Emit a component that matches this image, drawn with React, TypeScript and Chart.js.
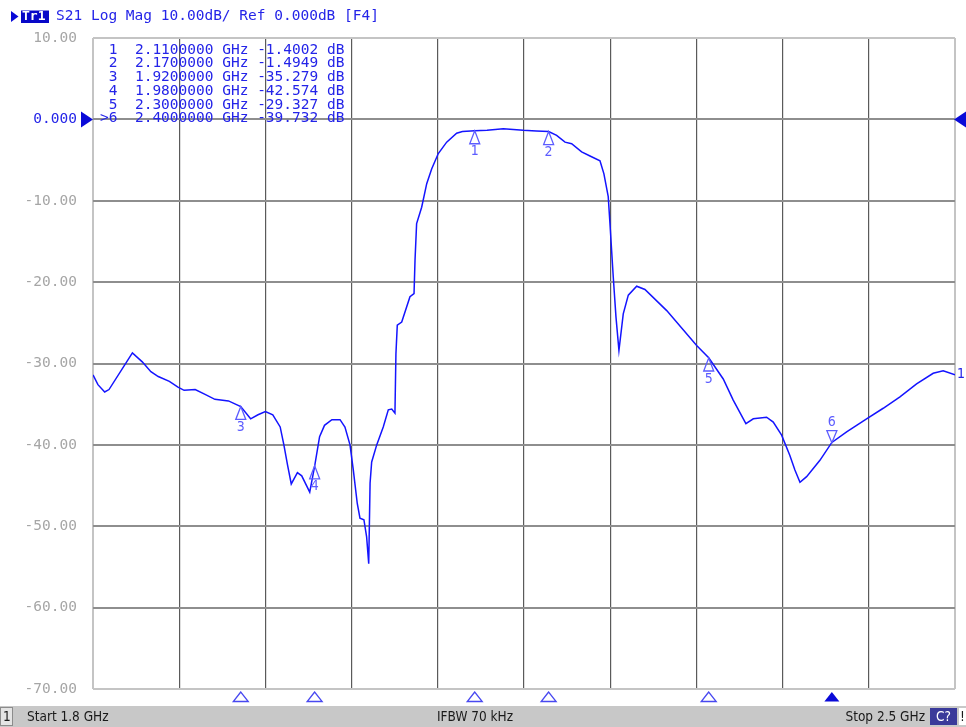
import React, { useEffect, useRef } from "react";
import { Chart, registerables } from "chart.js";

Chart.register(...registerables);

// ---- data ----
const freqGHz = [
  1.8, 1.804, 1.8095, 1.813, 1.832, 1.84, 1.847, 1.853, 1.862, 1.869, 1.874, 1.883, 1.891, 1.899, 1.91,
  1.92, 1.928, 1.934, 1.94, 1.946, 1.952, 1.955, 1.958, 1.961, 1.966, 1.9695, 1.976, 1.98, 1.984, 1.988,
  1.994, 2.0006, 2.0046, 2.0087, 2.0114, 2.0146, 2.0168, 2.02, 2.0222, 2.0239, 2.025, 2.0263, 2.0304,
  2.0357, 2.0398, 2.0426, 2.0452, 2.046, 2.0471, 2.0507, 2.0574, 2.0607, 2.0615, 2.0628, 2.0669, 2.071,
  2.075, 2.0804, 2.0872, 2.0953, 2.1, 2.11, 2.12, 2.1332, 2.1494, 2.16, 2.17, 2.1765, 2.1833, 2.1887,
  2.1968, 2.2036, 2.2117, 2.2149, 2.2184, 2.2198, 2.2225, 2.2247, 2.2271, 2.2306, 2.2347, 2.2415, 2.2482,
  2.2659, 2.2902, 2.3, 2.3118, 2.3199, 2.3302, 2.3362, 2.347, 2.3524, 2.3592, 2.3659, 2.37, 2.3741,
  2.3795, 2.3903, 2.4, 2.412, 2.4282, 2.4417, 2.4553, 2.4688, 2.4823, 2.4904, 2.5,
];
const s21dB = [
  -31.4, -32.6, -33.5, -33.2, -28.7, -29.8, -31.0, -31.6, -32.2, -32.9, -33.3, -33.2, -33.8, -34.4, -34.6,
  -35.3, -36.8, -36.3, -35.9, -36.3, -37.8, -40.0, -42.5, -44.8, -43.4, -43.8, -45.8, -42.6, -39.0, -37.6,
  -36.9, -36.9, -37.8, -40.0, -43.1, -47.2, -49.0, -49.2, -51.3, -54.6, -44.7, -42.1, -40.0,
  -37.8, -35.7, -35.6, -36.1, -28.8, -25.3, -24.9, -21.8, -21.4, -17.3, -12.8, -10.8, -7.9,
  -6.1, -4.2, -2.8, -1.7, -1.5, -1.4, -1.35, -1.15, -1.35, -1.42, -1.49, -1.97, -2.8, -3.0,
  -4.0, -4.5, -5.1, -6.7, -9.5, -12.8, -19.4, -24.3, -28.4, -23.9, -21.6, -20.5, -20.9,
  -23.5, -27.8, -29.3, -31.9, -34.5, -37.4, -36.8, -36.6, -37.2, -38.8, -41.3, -43.1, -44.6,
  -43.9, -41.9, -39.7, -38.4, -36.8, -35.5, -34.1, -32.5, -31.2, -30.9, -31.4,
];

const markerIds = ["1", "2", "3", "4", "5", "6"];
const markerFreqs = [2.11, 2.17, 1.92, 1.98, 2.3, 2.4];
const markerVals = [-1.4002, -1.4949, -35.279, -42.574, -29.327, -39.732];
const activeMarker = "6";

const startGHz = 1.8;
const stopGHz = 2.5;
const xDivisions = 10;
const yMin = -70;
const yMax = 10;
const yStep = 10;

const headerText = "S21 Log Mag 10.00dB/ Ref 0.000dB [F4]";
const traceName = "Tr1";
const startLabel = "Start 1.8 GHz";
const ifbwLabel = "IFBW 70 kHz";
const stopLabel = "Stop 2.5 GHz";

const MONO = "'DejaVu Sans Mono', monospace";
const SANS = "'DejaVu Sans Condensed', 'DejaVu Sans', sans-serif";
const BLUE = "#2424e8";
const MARK = "#5c5cff";

const vnaPlugin = {
  id: "vnaDecor",
  afterDraw(chart: any) {
    const ctx = chart.ctx as CanvasRenderingContext2D;
    const xs = chart.scales.x;
    const ys = chart.scales.y;
    const area = chart.chartArea;
    ctx.save();

    // header
    ctx.fillStyle = "#0a0ad8";
    ctx.beginPath();
    ctx.moveTo(11, 11);
    ctx.lineTo(18.5, 16.5);
    ctx.lineTo(11, 22);
    ctx.closePath();
    ctx.fill();
    ctx.fillStyle = "#0808c8";
    ctx.fillRect(21, 10.5, 28, 12.5);
    ctx.fillStyle = "#ffffff";
    ctx.font = `bold 13px ${MONO}`;
    ctx.textBaseline = "middle";
    ctx.textAlign = "left";
    ctx.fillText(traceName, 22, 17);
    ctx.fillStyle = BLUE;
    ctx.font = `14.5px ${MONO}`;
    ctx.fillText(headerText, 56, 16);

    // reference arrows at 0 dB
    const y0 = ys.getPixelForValue(0);
    ctx.fillStyle = "#0a0ad8";
    ctx.beginPath();
    ctx.moveTo(81, y0 - 8);
    ctx.lineTo(93, y0);
    ctx.lineTo(81, y0 + 8);
    ctx.closePath();
    ctx.fill();
    ctx.beginPath();
    ctx.moveTo(966, y0 - 8);
    ctx.lineTo(954, y0);
    ctx.lineTo(966, y0 + 8);
    ctx.closePath();
    ctx.fill();

    // marker table
    ctx.fillStyle = BLUE;
    ctx.font = `14.5px ${MONO}`;
    ctx.textAlign = "left";
    ctx.textBaseline = "middle";
    markerIds.forEach((id, i) => {
      const line =
        (id === activeMarker ? ">" : " ") +
        id +
        "  " +
        markerFreqs[i].toFixed(7) +
        " GHz " +
        markerVals[i].toPrecision(5) +
        " dB";
      ctx.fillText(line, 100, 50 + i * 13.7);
    });

    // markers on trace
    ctx.strokeStyle = MARK;
    ctx.fillStyle = MARK;
    ctx.lineWidth = 1.3;
    ctx.font = `14px ${SANS}`;
    ctx.textAlign = "center";
    markerIds.forEach((id, i) => {
      const px = xs.getPixelForValue(markerFreqs[i]);
      const py = ys.getPixelForValue(markerVals[i]);
      ctx.beginPath();
      if (id === activeMarker) {
        ctx.moveTo(px, py);
        ctx.lineTo(px - 5, py - 12);
        ctx.lineTo(px + 5, py - 12);
        ctx.closePath();
        ctx.stroke();
        ctx.textBaseline = "middle";
        ctx.fillText(id, px, py - 20);
      } else {
        ctx.moveTo(px, py);
        ctx.lineTo(px - 5, py + 13);
        ctx.lineTo(px + 5, py + 13);
        ctx.closePath();
        ctx.stroke();
        ctx.textBaseline = "middle";
        ctx.fillText(id, px, py + 21);
      }
    });

    // markers along the frequency axis
    markerIds.forEach((id, i) => {
      const px = xs.getPixelForValue(markerFreqs[i]);
      ctx.beginPath();
      ctx.moveTo(px, area.bottom + 3);
      ctx.lineTo(px - 7.5, area.bottom + 12.5);
      ctx.lineTo(px + 7.5, area.bottom + 12.5);
      ctx.closePath();
      if (id === activeMarker) {
        ctx.fillStyle = "#0a0ad8";
        ctx.fill();
      } else {
        ctx.strokeStyle = "#4848f0";
        ctx.lineWidth = 1.3;
        ctx.stroke();
      }
    });

    // trace end label
    const lastY = ys.getPixelForValue(s21dB[s21dB.length - 1]);
    ctx.fillStyle = BLUE;
    ctx.font = `14px ${SANS}`;
    ctx.textAlign = "left";
    ctx.textBaseline = "middle";
    ctx.fillText("1", area.right + 2, lastY - 1);

    // status bar
    ctx.fillStyle = "#c8c8c8";
    ctx.fillRect(0, 706, 966, 21);
    ctx.fillStyle = "#e4e4e4";
    ctx.fillRect(0, 707, 12, 19);
    ctx.strokeStyle = "#8c8c8c";
    ctx.lineWidth = 1;
    ctx.strokeRect(0.5, 707.5, 12, 18);
    ctx.fillStyle = "#1a1a1a";
    ctx.font = `13.5px ${SANS}`;
    ctx.textBaseline = "middle";
    ctx.textAlign = "left";
    ctx.fillText("1", 3, 717);
    ctx.fillText(startLabel, 27, 717);
    ctx.fillText(ifbwLabel, 437, 717);
    ctx.textAlign = "right";
    ctx.fillText(stopLabel, 925, 717);
    ctx.fillStyle = "#3a3a9a";
    ctx.fillRect(930, 708, 27, 17);
    ctx.fillStyle = "#ffffff";
    ctx.textAlign = "center";
    ctx.fillText("C?", 943.5, 717);
    ctx.fillStyle = "#ffffff";
    ctx.fillRect(959, 708, 7, 17);
    ctx.fillStyle = "#1a1a1a";
    ctx.fillText("!", 962.5, 717);

    ctx.restore();
  },
};

export default function App() {
  const canvasRef = useRef<HTMLCanvasElement | null>(null);

  useEffect(() => {
    document.body.style.margin = "0";
    document.body.style.background = "#ffffff";
    const canvas = canvasRef.current;
    if (!canvas) return;
    const points = freqGHz.map((f, i) => ({ x: f, y: s21dB[i] }));
    const chart = new Chart(canvas, {
      type: "scatter",
      data: {
        datasets: [
          {
            label: "S21",
            data: points,
            showLine: true,
            borderColor: "#1414ff",
            borderWidth: 1.5,
            pointRadius: 0,
            tension: 0,
          },
        ],
      },
      options: {
        animation: false,
        responsive: false,
        devicePixelRatio: 1,
        layout: { padding: { top: 38, right: 11, left: 0, bottom: 0 } },
        plugins: { legend: { display: false }, tooltip: { enabled: false } },
        scales: {
          x: {
            type: "linear",
            min: startGHz,
            max: stopGHz,
            afterBuildTicks: (scale: any) => {
              const step = (stopGHz - startGHz) / xDivisions;
              scale.ticks = Array.from({ length: xDivisions + 1 }, (_, i) => ({ value: startGHz + i * step }));
            },
            afterFit: (scale: any) => {
              scale.height = 38;
            },
            ticks: { display: false },
            border: { display: false },
            grid: {
              drawTicks: false,
              color: (c: any) => (c.index === 0 || c.index === xDivisions ? "#c4c4c4" : "#5a5a5a"),
              lineWidth: (c: any) => (c.index === 0 || c.index === xDivisions ? 2 : 1.2),
            },
          },
          y: {
            min: yMin,
            max: yMax,
            afterFit: (scale: any) => {
              scale.width = 93;
            },
            ticks: {
              stepSize: yStep,
              padding: 16,
              font: { family: "DejaVu Sans Mono", size: 14.5 },
              color: (c: any) => (c.tick && c.tick.value === 0 ? BLUE : "#a6a6a6"),
              callback: (v: any) => (Number(v) === 0 ? "0.000" : Number(v).toFixed(2)),
            },
            border: { display: false },
            grid: {
              drawTicks: false,
              color: (c: any) => (c.index === 0 || c.index === 8 ? "#c4c4c4" : "#8e8e8e"),
              lineWidth: 2,
            },
          },
        },
      },
      plugins: [vnaPlugin],
    });
    return () => chart.destroy();
  }, []);

  return (
    <div style={{ position: "fixed", left: 0, top: 0, width: 966, height: 727, background: "#fff" }}>
      <canvas ref={canvasRef} width={966} height={727} style={{ display: "block" }} />
    </div>
  );
}
